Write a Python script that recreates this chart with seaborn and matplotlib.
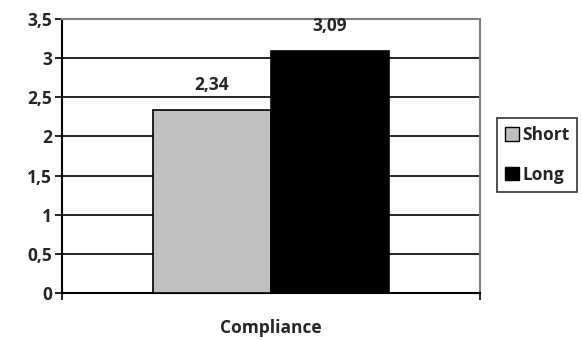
import pandas as pd
import matplotlib.pyplot as plt
import seaborn as sns

categories = ["Compliance", "Compliance"]
series = ["Short", "Long"]
values = [2.34, 3.09]
value_labels = ["2,34", "3,09"]
y_ticks = [0, 0.5, 1, 1.5, 2, 2.5, 3, 3.5]
y_tick_labels = ["0", "0,5", "1", "1,5", "2", "2,5", "3", "3,5"]

sns.set_theme(style="white")
plt.rcParams["font.family"] = ["Open Sans", "DejaVu Sans"]
plt.rcParams["font.weight"] = "bold"

FS = 12.5

df = pd.DataFrame({"cat": categories, "series": series, "value": values})

fig = plt.figure(figsize=(5.82, 3.40), dpi=100)
ax = fig.add_axes([62 / 582, 47 / 340, 418 / 582, 274 / 340])

sns.barplot(data=df, x="cat", y="value", hue="series", ax=ax,
            palette={"Short": "#c0c0c0", "Long": "#000000"},
            width=0.566, edgecolor="black", linewidth=1.2, zorder=3)

ax.set_xlim(-0.5, 0.5)
ax.set_ylim(0, 3.5)
ax.set_yticks(y_ticks)
ax.set_yticklabels(y_tick_labels, fontsize=FS, fontweight="bold")
for y in y_ticks[1:-1]:
    ax.axhline(y, color="black", linewidth=1.2, zorder=1)

ax.set_xlabel("")
ax.set_ylabel("")
ax.tick_params(axis="x", which="major", length=0, pad=19, labelsize=FS)
for lbl in ax.get_xticklabels():
    lbl.set_fontweight("bold")
ax.set_xticks([-0.5, 0.5], minor=True)
ax.tick_params(axis="x", which="minor", length=5, width=1.2, color="black", bottom=True)
ax.tick_params(axis="y", length=5, width=1.2, color="black", left=True, pad=2)

for side in ["left", "bottom"]:
    ax.spines[side].set_color("black")
    ax.spines[side].set_linewidth(1.5)
for side in ["top", "right"]:
    ax.spines[side].set_color("#808080")
    ax.spines[side].set_linewidth(1.5)

for patch, txt in zip(ax.patches, value_labels):
    ax.annotate(txt, (patch.get_x() + patch.get_width() / 2, patch.get_height()),
                xytext=(0, 18), textcoords="offset points", ha="center", va="center",
                fontsize=FS, fontweight="bold", annotation_clip=False)

handles = [plt.Rectangle((0, 0), 1, 1, facecolor=c, edgecolor="black", linewidth=1)
           for c in ["#c0c0c0", "#000000"]]
leg = ax.legend(handles, series, loc="center left", bbox_to_anchor=(497 / 582, 1 - 155 / 340),
                bbox_transform=fig.transFigure, frameon=True, fancybox=False,
                handlelength=0.8, handleheight=0.8, handletextpad=0.2,
                labelspacing=1.25, borderpad=0.45, borderaxespad=0,
                prop={"size": FS, "weight": "bold"})
leg.get_frame().set_edgecolor("black")
leg.get_frame().set_linewidth(1.2)

fig.savefig("out.png", dpi=100)
